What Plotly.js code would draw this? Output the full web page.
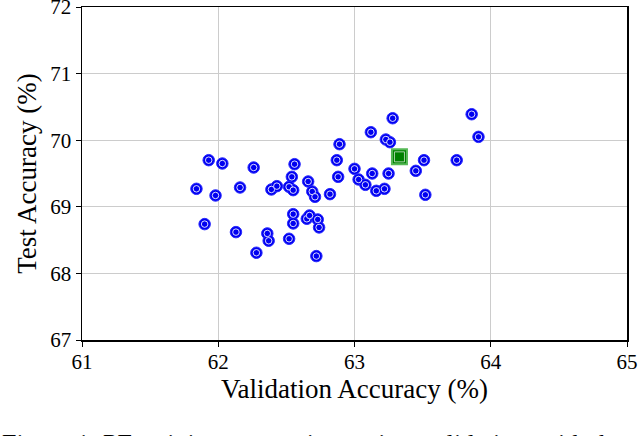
<!DOCTYPE html>
<html>
<head>
<meta charset="utf-8">
<script src="https://cdn.plot.ly/plotly-3.0.1.min.js"></script>
<style>
  html, body { margin: 0; padding: 0; background: #fff; }
  #myDiv { width: 640px; height: 436px; }
</style>
</head>
<body>
<div id="myDiv"></div>
<script>
// validation / test accuracy of each run
var valAcc = [62.89, 61.93, 62.03, 62.26, 62.56, 62.87, 62.88, 62.54, 62.66, 61.84,
              61.98, 62.16, 62.39, 62.43, 62.52, 62.55, 62.69, 62.71, 62.82, 62.55,
              62.55, 62.65, 62.67, 62.73, 62.74, 61.90, 62.13, 62.36, 62.37, 62.52,
              62.28, 62.72, 63.28, 63.86, 63.91, 63.12, 63.23, 63.26, 63.00, 63.13,
              63.25, 63.03, 63.08, 63.16, 63.22, 63.51, 63.45, 63.75, 63.52];
var testAcc = [69.94, 69.70, 69.65, 69.59, 69.64, 69.70, 69.45, 69.45, 69.38, 69.27,
               69.17, 69.29, 69.26, 69.31, 69.30, 69.25, 69.23, 69.15, 69.19, 68.89,
               68.75, 68.82, 68.87, 68.81, 68.69, 68.74, 68.62, 68.60, 68.49, 68.52,
               68.31, 68.26, 70.33, 70.39, 70.05, 70.12, 70.01, 69.97, 69.57, 69.50,
               69.50, 69.41, 69.33, 69.24, 69.27, 69.70, 69.54, 69.70, 69.18];

// the selected run
var selVal = [63.33];
var selTest = [69.75];

var xTicks = [61, 62, 63, 64, 65];
var yTicks = [67, 68, 69, 70, 71, 72];

var serif = 'Liberation Serif';

function pointTrace(xs, ys, symbol, size, fill, edge, edgeW) {
  return {
    x: xs, y: ys,
    type: 'scatter',
    mode: 'markers',
    hoverinfo: 'skip',
    cliponaxis: false,
    marker: { symbol: symbol, size: size, color: fill,
              line: { color: edge, width: edgeW } }
  };
}

var data = [
  pointTrace(valAcc, testAcc, 'circle', 11.5, '#0000f0', '#2a2aff', 1),
  pointTrace(valAcc, testAcc, 'circle', 6.5, '#0000f0', 'rgba(255,255,255,0.85)', 1),
  pointTrace(selVal, selTest, 'square', 15, '#008000', '#55b855', 2),
  pointTrace(selVal, selTest, 'square', 10, '#008000', 'rgba(230,240,230,0.9)', 0.8)
];

function axis(range, ticks, title, standoff, labelShift) {
  return {
    range: range,
    tickvals: ticks,
    ticktext: ticks.map(String),
    showgrid: true,
    gridcolor: '#cccccc',
    gridwidth: 1.2,
    zeroline: false,
    showline: true,
    linecolor: '#000',
    linewidth: 1.5,
    mirror: true,
    ticks: 'outside',
    ticklen: 5,
    tickwidth: 1,
    tickcolor: '#000',
    ticklabeloverflow: 'allow',
    ticklabelstandoff: labelShift,
    tickfont: { family: serif, size: 21, color: '#000' },
    title: { text: title, font: { family: serif, size: 27, color: '#000' }, standoff: standoff }
  };
}

var layout = {
  width: 640,
  height: 436,
  margin: { l: 82, r: 13, t: 7, b: 96 },
  paper_bgcolor: '#fff',
  plot_bgcolor: '#fff',
  showlegend: false,
  xaxis: axis([61, 65], xTicks, 'Validation Accuracy (%)', 4, -3),
  yaxis: axis([67, 72], yTicks, 'Test Accuracy (%)', 6, 0),
  // caption of the source figure, cut by the bottom edge as in the picture
  annotations: [{
    xref: 'paper', yref: 'paper',
    x: -0.15, y: -0.262,
    xanchor: 'left', yanchor: 'top',
    showarrow: false,
    align: 'left',
    text: 'Figure 1: PE training accuracies against validation, with the selected run for ES',
    font: { family: serif, size: 26, color: '#000' }
  }]
};

Plotly.newPlot('myDiv', data, layout, { displayModeBar: false, staticPlot: true });
</script>
</body>
</html>
